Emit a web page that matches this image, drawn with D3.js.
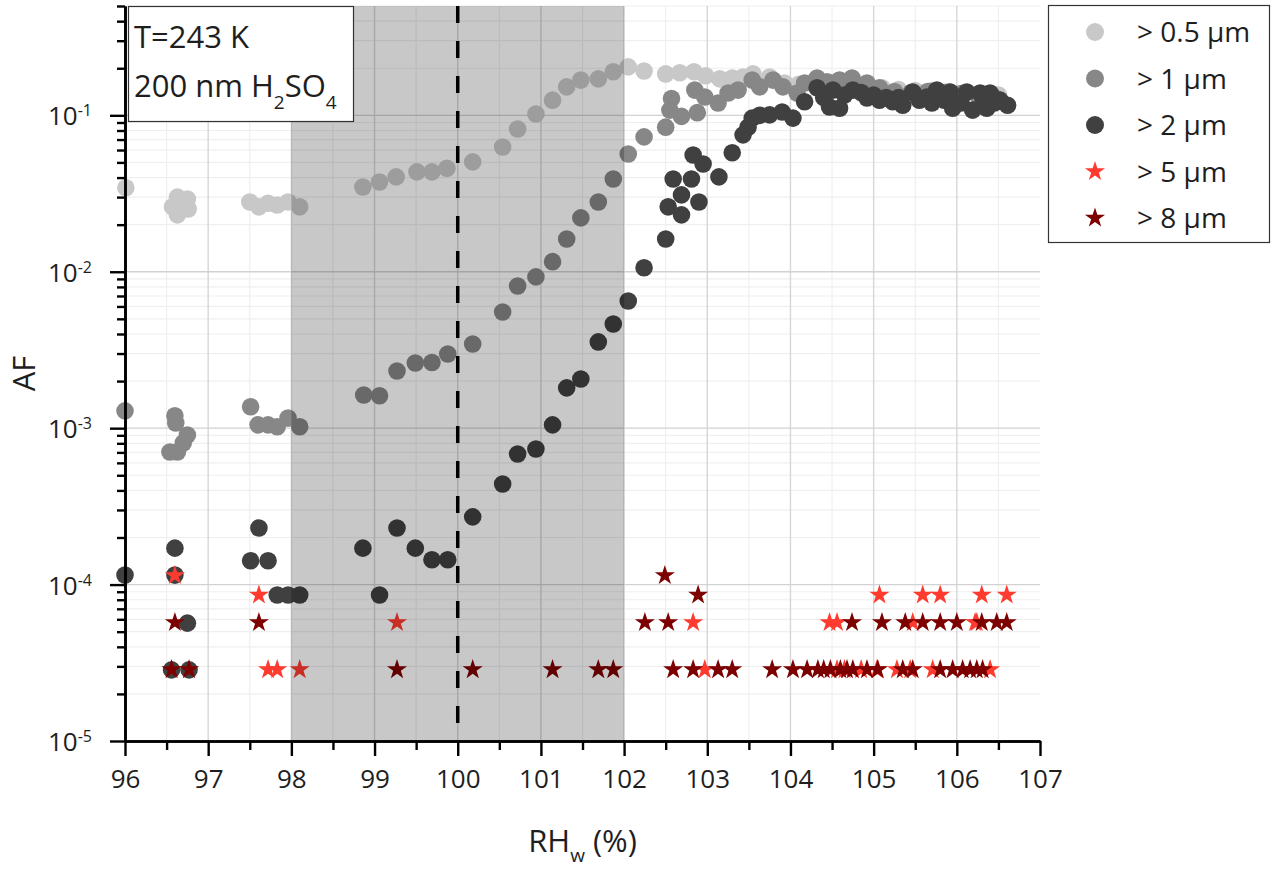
<!DOCTYPE html>
<html>
<head>
<meta charset="utf-8">
<script src="https://cdn.jsdelivr.net/npm/d3@7"></script>
<style>
  html, body { margin: 0; padding: 0; background: #fff; }
  svg { display: block; font-family: "Open Sans", "Noto Sans", sans-serif; }
</style>
</head>
<body>
<svg id="chart" width="1271" height="871"></svg>
<script>
// ---------------- DATA ----------------
const seriesNames = ["> 0.5 µm", "> 1 µm", "> 2 µm", "> 5 µm", "> 8 µm"];

const rh05 = [96.01, 96.57, 96.63, 96.63, 96.75, 96.76, 97.50, 97.61, 97.72, 97.83, 97.96, 98.10,
  98.86, 99.06, 99.26, 99.51, 99.69, 99.87, 100.18, 100.54, 100.72, 100.94, 101.14, 101.31, 101.48,
  101.69, 101.87, 102.05, 102.24, 102.50, 102.67, 102.84, 102.98, 103.15, 103.30, 103.43, 103.55,
  103.75, 103.93, 104.10, 104.30, 104.50, 104.70, 104.90, 105.10, 105.30, 105.50, 105.70, 105.90,
  106.10, 106.30, 106.50];
const af05 = [0.0344, 0.026, 0.030, 0.0231, 0.0292, 0.0252, 0.0279, 0.026, 0.0274, 0.0267, 0.0279, 0.026,
  0.0348, 0.0375, 0.0404, 0.0435, 0.0435, 0.0459, 0.0504, 0.0628, 0.0818, 0.102, 0.125, 0.152, 0.168,
  0.171, 0.190, 0.204, 0.192, 0.184, 0.187, 0.190, 0.179, 0.171, 0.173, 0.176, 0.184,
  0.176, 0.161, 0.158, 0.160, 0.162, 0.160, 0.155, 0.150, 0.146, 0.144, 0.144, 0.142,
  0.140, 0.138, 0.135];

const rh1 = [96.00, 96.54, 96.60, 96.61, 96.63, 96.70, 96.75, 97.51, 97.60, 97.72, 97.83, 97.96, 98.10,
  98.87, 99.06, 99.27, 99.49, 99.69, 99.88, 100.18, 100.54, 100.72, 100.94, 101.14, 101.31, 101.48,
  101.69, 101.87, 102.05, 102.24, 102.50, 102.55, 102.57, 102.69, 102.85, 102.88, 102.97, 103.13,
  103.25, 103.37, 103.54, 103.63, 103.79, 103.91, 104.08, 104.17, 104.32, 104.44, 104.59, 104.74,
  104.92, 105.07, 105.25, 105.45, 105.65, 105.85, 106.05, 106.25, 106.45];
const af1 = [1.29e-3, 7.04e-4, 1.20e-3, 1.08e-3, 7.04e-4, 8.04e-4, 9.05e-4, 1.37e-3, 1.05e-3, 1.05e-3, 1.02e-3, 1.16e-3, 1.02e-3,
  1.63e-3, 1.61e-3, 2.32e-3, 2.61e-3, 2.63e-3, 2.98e-3, 3.45e-3, 5.53e-3, 8.1e-3, 9.27e-3, 0.0116, 0.0162, 0.0221,
  0.0279, 0.0392, 0.0566, 0.0728, 0.084, 0.108, 0.128, 0.0985, 0.145, 0.104, 0.131, 0.120,
  0.139, 0.145, 0.168, 0.152, 0.168, 0.152, 0.139, 0.161, 0.173, 0.164, 0.168, 0.173,
  0.161, 0.150, 0.142, 0.140, 0.142, 0.140, 0.138, 0.135, 0.130];

const rh2 = [96.00, 96.56, 96.60, 96.60, 96.75, 96.77, 97.51, 97.61, 97.72, 97.83, 97.96, 98.10,
  98.86, 99.06, 99.27, 99.49, 99.69, 99.88, 100.18, 100.54, 100.72, 100.94, 101.14, 101.31, 101.48,
  101.69, 101.87, 102.05, 102.24, 102.50, 102.53, 102.59, 102.69, 102.69, 102.81, 102.83, 102.90,
  102.95, 103.14, 103.30, 103.43, 103.49, 103.54, 103.63, 103.75, 103.90, 104.03, 104.17, 104.32,
  104.40, 104.47, 104.51, 104.59, 104.65, 104.75, 104.85, 104.92, 105.00, 105.07, 105.15, 105.23,
  105.30, 105.35, 105.47, 105.55, 105.64, 105.70, 105.76, 105.85, 105.92, 105.95, 106.05, 106.12,
  106.19, 106.28, 106.30, 106.36, 106.40, 106.45, 106.52, 106.61];
const af2 = [1.15e-4, 2.85e-5, 1.71e-4, 1.15e-4, 5.67e-5, 2.85e-5, 1.42e-4, 2.30e-4, 1.42e-4, 8.57e-5, 8.57e-5, 8.57e-5,
  1.71e-4, 8.57e-5, 2.30e-4, 1.71e-4, 1.44e-4, 1.44e-4, 2.71e-4, 4.4e-4, 6.84e-4, 7.36e-4, 1.05e-3, 1.81e-3, 2.06e-3,
  3.56e-3, 4.63e-3, 6.5e-3, 0.0106, 0.0162, 0.026, 0.0392, 0.0231, 0.031, 0.0392, 0.0558, 0.0279,
  0.0489, 0.0404, 0.0576, 0.075, 0.084, 0.096, 0.100, 0.1007, 0.105, 0.096, 0.122, 0.150,
  0.130, 0.113, 0.145, 0.111, 0.135, 0.145, 0.140, 0.129, 0.135, 0.125, 0.130, 0.122,
  0.130, 0.116, 0.141, 0.125, 0.131, 0.120, 0.145, 0.125, 0.141, 0.111, 0.120, 0.141,
  0.108, 0.139, 0.115, 0.111, 0.139, 0.120, 0.125, 0.116];

const rh5 = [96.60, 97.61, 97.72, 97.83, 98.10, 99.27, 102.83, 102.97, 104.47, 104.56, 104.56, 104.65,
  104.85, 105.04, 105.07, 105.28, 105.44, 105.47, 105.59, 105.71, 105.80, 106.22, 106.24, 106.30, 106.40, 106.60];
const af5 = [1.144e-4, 8.58e-5, 2.86e-5, 2.86e-5, 2.86e-5, 5.72e-5, 5.72e-5, 2.86e-5, 5.72e-5, 5.72e-5, 2.86e-5, 2.86e-5,
  2.86e-5, 2.86e-5, 8.58e-5, 2.86e-5, 2.86e-5, 5.72e-5, 8.58e-5, 2.86e-5, 8.58e-5, 5.72e-5, 5.72e-5, 8.58e-5, 2.86e-5, 8.58e-5];

const rh8 = [96.56, 96.60, 96.77, 97.61, 99.27, 100.18, 101.14, 101.69, 101.87, 102.25, 102.49, 102.53,
  102.59, 102.83, 102.89, 103.13, 103.30, 103.78, 104.03, 104.20, 104.33, 104.40, 104.48, 104.60,
  104.68, 104.74, 104.75, 104.92, 105.05, 105.10, 105.35, 105.38, 105.47, 105.59, 105.80, 105.80,
  105.95, 106.00, 106.07, 106.16, 106.24, 106.30, 106.31, 106.48, 106.60];
const af8 = [2.86e-5, 5.72e-5, 2.86e-5, 5.72e-5, 2.86e-5, 2.86e-5, 2.86e-5, 2.86e-5, 2.86e-5, 5.72e-5, 1.144e-4, 5.72e-5,
  2.86e-5, 2.86e-5, 8.58e-5, 2.86e-5, 2.86e-5, 2.86e-5, 2.86e-5, 2.86e-5, 2.86e-5, 2.86e-5, 2.86e-5, 2.86e-5,
  2.86e-5, 5.72e-5, 2.86e-5, 2.86e-5, 2.86e-5, 5.72e-5, 2.86e-5, 5.72e-5, 2.86e-5, 5.72e-5, 2.86e-5, 5.72e-5,
  2.86e-5, 5.72e-5, 2.86e-5, 2.86e-5, 2.86e-5, 5.72e-5, 2.86e-5, 5.72e-5, 5.72e-5];

const xTicks = [96, 97, 98, 99, 100, 101, 102, 103, 104, 105, 106, 107];
const yTicks = [1e-5, 1e-4, 1e-3, 1e-2, 1e-1];
const yTickExp = ["-5", "-4", "-3", "-2", "-1"];
const shadeRange = [98, 102];
const dashedAt = 100;

// ---------------- LAYOUT ----------------
const L = 125, R = 1040, T = 6, B = 741;
const svg = d3.select("#chart");
const x = d3.scaleLinear().domain([96, 107]).range([L, R]);
const y = d3.scaleLog().domain([1e-5, 0.5]).range([B, T]);

const colors = ["#c8c8c8", "#878787", "#404040", "#ff3b2f", "#7d0000"];
const textColor = "#1e1e1e";

// grid
const g = svg.append("g");
const minorX = d3.range(96.5, 107, 1);
const minorY = [];
for (let e = -5; e <= -1; e++) for (let k = 2; k <= 9; k++) { const v = k * Math.pow(10, e); if (v <= 0.5) minorY.push(v); }
g.selectAll(".mx").data(minorX).join("line")
  .attr("x1", d => x(d)).attr("x2", d => x(d)).attr("y1", T).attr("y2", B)
  .attr("stroke", "#efefef").attr("stroke-width", 1.2);
g.selectAll(".my").data(minorY).join("line")
  .attr("x1", L).attr("x2", R).attr("y1", d => y(d)).attr("y2", d => y(d))
  .attr("stroke", "#efefef").attr("stroke-width", 1.2);
g.selectAll(".Mx").data(xTicks.slice(1, -1)).join("line")
  .attr("x1", d => x(d)).attr("x2", d => x(d)).attr("y1", T).attr("y2", B)
  .attr("stroke", "#d6d6d6").attr("stroke-width", 1.4);
g.selectAll(".My").data(yTicks.slice(1)).join("line")
  .attr("x1", L).attr("x2", R).attr("y1", d => y(d)).attr("y2", d => y(d))
  .attr("stroke", "#d2d2d2").attr("stroke-width", 1.4);

// data
const zip = (a, b) => a.map((v, i) => [v, b[i]]);
const circleSeries = [zip(rh05, af05), zip(rh1, af1), zip(rh2, af2)];
const starSeries = [zip(rh5, af5), zip(rh8, af8)];
const R_DOT = 8.8;
const star = d3.symbol().type(d3.symbolStar).size(125);

circleSeries.forEach((s, i) => {
  svg.append("g").selectAll("circle").data(s).join("circle")
    .attr("cx", d => x(d[0])).attr("cy", d => y(d[1])).attr("r", R_DOT)
    .attr("fill", colors[i]);
});
starSeries.forEach((s, i) => {
  svg.append("g").selectAll("path").data(s).join("path")
    .attr("d", star)
    .attr("transform", d => `translate(${x(d[0])},${y(d[1])})`)
    .attr("fill", colors[3 + i]);
});

// shaded overlay
svg.append("rect")
  .attr("x", x(shadeRange[0])).attr("y", T)
  .attr("width", x(shadeRange[1]) - x(shadeRange[0])).attr("height", B - T)
  .attr("fill", "rgba(0,0,0,0.215)");

// dashed line
svg.append("line")
  .attr("x1", x(dashedAt)).attr("x2", x(dashedAt)).attr("y1", T).attr("y2", B)
  .attr("stroke", "#000").attr("stroke-width", 3.5).attr("stroke-dasharray", "17,18");

// axes
const axX = svg.append("g").attr("transform", `translate(0,${B})`)
  .call(d3.axisBottom(x).tickValues(xTicks).tickSize(15).tickSizeOuter(0).tickFormat(d3.format("d")));
svg.append("g").attr("transform", `translate(0,${B})`)
  .call(d3.axisBottom(x).tickValues(minorX).tickSize(9).tickSizeOuter(0).tickFormat(""));
const axY = svg.append("g").attr("transform", `translate(${L},0)`)
  .call(d3.axisLeft(y).tickValues(yTicks).tickSize(15).tickSizeOuter(0).tickFormat(""));
svg.append("g").attr("transform", `translate(${L},0)`)
  .call(d3.axisLeft(y).tickValues(minorY).tickSize(8).tickSizeOuter(0).tickFormat(""));
svg.selectAll(".domain").attr("stroke", "#000").attr("stroke-width", 2.6);
svg.selectAll(".tick line").attr("stroke", "#000").attr("stroke-width", 2.4);
axX.selectAll("text").attr("font-size", 26).attr("fill", textColor)
  .attr("font-family", "'Open Sans', sans-serif").attr("dy", null).attr("y", 47);

// y tick labels with superscripts
yTicks.forEach((v, i) => {
  const t = svg.append("text").attr("x", 92).attr("y", y(v) + 10)
    .attr("text-anchor", "end").attr("font-size", 26).attr("fill", textColor);
  t.append("tspan").text("10");
  t.append("tspan").attr("font-size", 16).attr("dy", -9).text(yTickExp[i]);
});

// axis titles
svg.append("text").attr("transform", `translate(35,${(T + B) / 2}) rotate(-90)`)
  .attr("text-anchor", "middle").attr("font-size", 31).attr("fill", textColor).text("AF");
const xt = svg.append("text").attr("x", (L + R) / 2).attr("y", 852)
  .attr("text-anchor", "middle").attr("font-size", 31).attr("fill", textColor);
xt.append("tspan").text("RH");
xt.append("tspan").attr("font-size", 19).attr("dy", 10).text("w");
xt.append("tspan").attr("dy", -10).text(" (%)");

// annotation box
svg.append("rect").attr("x", 128.5).attr("y", 6.5).attr("width", 225).attr("height", 115)
  .attr("fill", "#fff").attr("stroke", "#333").attr("stroke-width", 1.2);
svg.append("text").attr("x", 134).attr("y", 48).attr("font-size", 31).attr("fill", textColor).text("T=243 K");
const ann = svg.append("text").attr("x", 134).attr("y", 97).attr("font-size", 31).attr("fill", textColor);
ann.append("tspan").text("200 nm H");
ann.append("tspan").attr("font-size", 19).attr("dy", 12).text("2");
ann.append("tspan").attr("dy", -12).text("SO");
ann.append("tspan").attr("font-size", 19).attr("dy", 12).text("4");

// legend
const lg = svg.append("g");
lg.append("rect").attr("x", 1048.5).attr("y", 5.5).attr("width", 221).attr("height", 237)
  .attr("fill", "#fff").attr("stroke", "#333").attr("stroke-width", 1.2);
const rowsY = [32, 78.5, 125, 171.5, 218];
seriesNames.forEach((name, i) => {
  if (i < 3) {
    lg.append("circle").attr("cx", 1095).attr("cy", rowsY[i]).attr("r", 9).attr("fill", colors[i]);
  } else {
    lg.append("path").attr("d", star).attr("transform", `translate(1095,${rowsY[i]})`).attr("fill", colors[i]);
  }
  lg.append("text").attr("x", 1137).attr("y", rowsY[i] + 10).attr("font-size", 28)
    .attr("fill", textColor).text(name);
});
</script>
</body>
</html>
